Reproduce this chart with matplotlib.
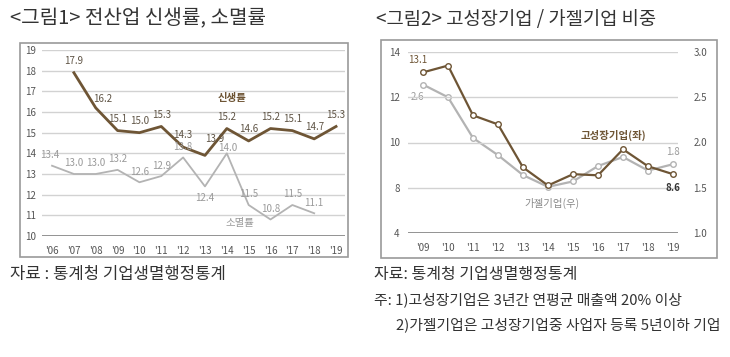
import numpy as np
import matplotlib
matplotlib.use("Agg")
import matplotlib.pyplot as plt
from matplotlib.patches import Rectangle

plt.rcParams['font.family'] = ['Noto Sans CJK KR', 'DejaVu Sans']

# ---- data: figure 1 (all industries) ----
years1 = ["'06", "'07", "'08", "'09", "'10", "'11", "'12", "'13", "'14", "'15", "'16", "'17", "'18", "'19"]
birth = [np.nan, 17.9, 16.2, 15.1, 15.0, 15.3, 14.3, 13.9, 15.2, 14.6, 15.2, 15.1, 14.7, 15.3]
death = [13.4, 13.0, 13.0, 13.2, 12.6, 12.9, 13.8, 12.4, 14.0, 11.5, 10.8, 11.5, 11.1, np.nan]

# ---- data: figure 2 (high growth / gazelle share) ----
years2 = ["'09", "'10", "'11", "'12", "'13", "'14", "'15", "'16", "'17", "'18", "'19"]
high_growth = [13.1, 13.4, 11.2, 10.8, 8.9, 8.1, 8.6, 8.55, 9.7, 8.95, 8.6]
gazelle = [2.64, 2.5, 2.05, 1.86, 1.64, 1.51, 1.57, 1.74, 1.84, 1.69, 1.76]

brown = "#6e5535"
gray = "#b3b3b3"
grid_c = "#d2d2d2"
tick_c = "#555555"

W, H = 730, 357
fig = plt.figure(figsize=(W/100, H/100), dpi=100)

def px(l, t, r, b):
    return [l/W, 1-b/H, (r-l)/W, (b-t)/H]

# frames around the charts
for (l, t, r, b) in [(20, 43, 348, 257), (381, 40, 717, 258)]:
    fig.patches.append(Rectangle((l/W, 1-b/H), (r-l)/W, (b-t)/H, transform=fig.transFigure,
                                 fill=False, edgecolor="#9a9a9a", linewidth=1.2))

fig.text(10/W, 1-19/H, "<그림1> 전산업 신생률, 소멸률", fontsize=14.5, color="#333333", va="center")
fig.text(376/W, 1-19/H, "<그림2> 고성장기업 / 가젤기업 비중", fontsize=13.5, color="#333333", va="center")

# ---------- chart 1 ----------
ax1 = fig.add_axes(px(42, 50, 345, 236))
x1 = np.arange(len(years1))
for s in ax1.spines.values():
    s.set_visible(False)
ax1.set_xlim(-0.46, 13.41)
ax1.set_ylim(10, 19)
ax1.set_yticks(range(10, 20))
ax1.set_xticks(x1)
ax1.set_xticklabels(years1)
ax1.tick_params(length=0, labelsize=7, colors=tick_c)
ax1.tick_params(axis="y", pad=4)
ax1.tick_params(axis="x", pad=7)
for v in range(11, 20):
    ax1.axhline(v, color=grid_c, linewidth=1.0, zorder=0)
ax1.axhline(10, color="#8a8a8a", linewidth=1.3, zorder=0)

ax1.plot(x1, death, color=gray, linewidth=1.3, zorder=2)
ax1.plot(x1, birth, color=brown, linewidth=2.0, zorder=3)

birth_off = {2: (5, 3), 7: (7, 8)}
for i, v in enumerate(birth):
    if np.isnan(v):
        continue
    ax1.annotate(f"{v:.1f}", (x1[i], v), xytext=birth_off.get(i, (0, 5)), textcoords="offset points",
                 ha="center", va="bottom", fontsize=7, color="#5f5445")
death_off = {0: (-2, 4), 8: (1, 0)}
for i, v in enumerate(death):
    if np.isnan(v):
        continue
    if i == 7:
        ax1.annotate(f"{v:.1f}", (x1[i], v), xytext=(0, -5), textcoords="offset points",
                     ha="center", va="top", fontsize=7, color="#9a9a9a")
    else:
        ax1.annotate(f"{v:.1f}", (x1[i], v), xytext=death_off.get(i, (0, 4)), textcoords="offset points",
                     ha="center", va="bottom", fontsize=7, color="#9a9a9a")
ax1.text(8.24, 16.68, "신생률", fontsize=7.5, color=brown, ha="center", va="center", fontweight="bold")
ax1.text(8.6, 10.63, "소멸률", fontsize=7.5, color="#9a9a9a", ha="center", va="center")

# ---------- chart 2 ----------
ax2 = fig.add_axes(px(408, 52, 678, 233))
ax3 = ax2.twinx()
x2 = np.arange(len(years2))
for a in (ax2, ax3):
    for s in a.spines.values():
        s.set_visible(False)
ax2.set_xlim(-0.6, 10.2)
ax2.set_ylim(6, 14)
ax3.set_ylim(1.0, 3.0)
ax2.set_yticks([6, 8, 10, 12, 14])
ax2.set_yticklabels(["4", "8", "10", "12", "14"])
ax3.set_yticks([1.0, 1.5, 2.0, 2.5, 3.0])
ax3.set_yticklabels(["1.0", "1.5", "2.0", "2.5", "3.0"])
ax2.set_xticks(x2)
ax2.set_xticklabels(years2)
ax2.tick_params(length=0, labelsize=7, colors=tick_c)
ax2.tick_params(axis="y", pad=6)
ax2.tick_params(axis="x", pad=7)
ax3.tick_params(length=0, labelsize=7, colors=tick_c, pad=11)
for v in [8, 10, 12, 14]:
    ax2.axhline(v, color=grid_c, linewidth=1.0, zorder=0)
ax2.axhline(6, color="#8a8a8a", linewidth=1.3, zorder=0)

ax3.plot(x2, gazelle, color=gray, linewidth=1.6, marker="o", markersize=4,
         markerfacecolor="white", markeredgecolor=gray, markeredgewidth=1.0, zorder=2)
ax2.set_zorder(ax3.get_zorder() + 1)
ax2.patch.set_visible(False)
ax2.plot(x2, high_growth, color=brown, linewidth=1.6, marker="o", markersize=4,
         markerfacecolor="white", markeredgecolor=brown, markeredgewidth=1.0, zorder=3)

ax2.annotate(f"{high_growth[0]:.1f}", (x2[0], high_growth[0]), xytext=(-4, 5), textcoords="offset points",
             ha="center", va="bottom", fontsize=7, color=brown)
ax3.annotate(f"{gazelle[0]:.1f}", (x2[0], gazelle[0]), xytext=(-4, -5), textcoords="offset points",
             ha="center", va="top", fontsize=7, color="#9a9a9a")
ax3.annotate(f"{gazelle[-1]:.1f}", (x2[-1], gazelle[-1]), xytext=(0, 5), textcoords="offset points",
             ha="center", va="bottom", fontsize=7, color="#9a9a9a")
ax2.annotate(f"{high_growth[-1]:.1f}", (x2[-1], high_growth[-1]), xytext=(0, -6), textcoords="offset points",
             ha="center", va="top", fontsize=7, color="#333333", fontweight="bold")
ax2.text(7.6, 10.3, "고성장기업(좌)", fontsize=7.5, color=brown, ha="center", va="center", fontweight="bold")
ax3.text(5.16, 1.33, "가젤기업(우)", fontsize=7.5, color="#8a8a8a", ha="center", va="center")

# ---------- notes ----------
fig.text(10/W, 1-275/H, "자료 : 통계청 기업생멸행정통계", fontsize=12, color="#333333", va="center")
fig.text(374/W, 1-275/H, "자료: 통계청 기업생멸행정통계", fontsize=11.5, color="#333333", va="center")
fig.text(374/W, 1-300/H, "주: 1)고성장기업은 3년간 연평균 매출액 20% 이상", fontsize=10.7, color="#333333", va="center")
fig.text(396/W, 1-325/H, "2)가젤기업은 고성장기업중 사업자 등록 5년이하 기업", fontsize=10.7, color="#333333", va="center")

fig.savefig("out.png", dpi=100)
